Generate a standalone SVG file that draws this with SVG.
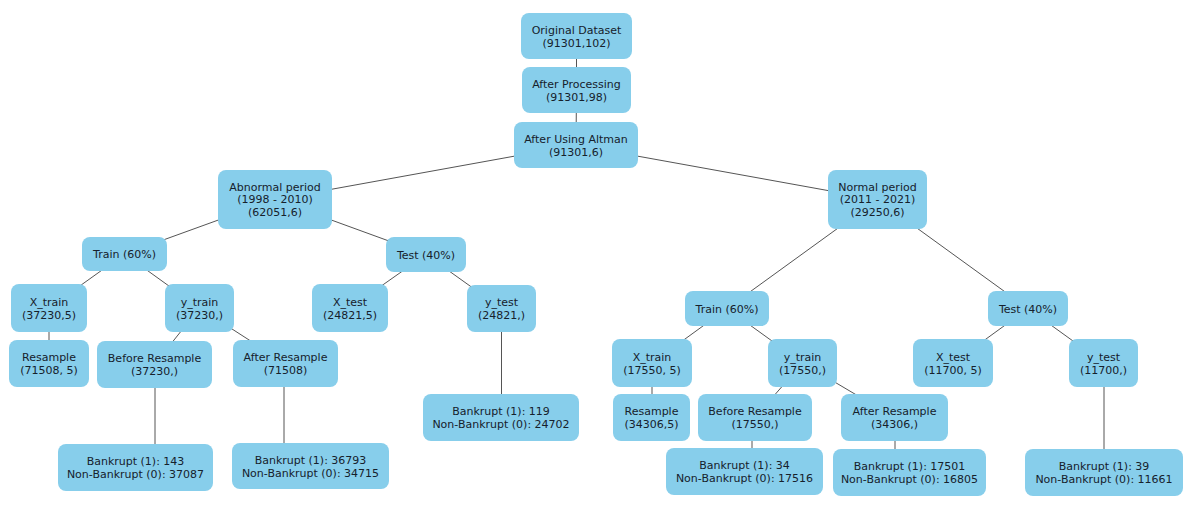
<svg xmlns="http://www.w3.org/2000/svg" width="1192" height="507" viewBox="0 0 1192 507">
<style>
.n rect{fill:#87CEEB}
.n text{font-family:"DejaVu Sans",sans-serif;font-size:11px;fill:#16212c;text-anchor:middle}
#edges line{stroke:#555;stroke-width:1}
</style>
<rect width="1192" height="507" fill="#fff"/>
<g id="edges">
<line x1="576.5" y1="36" x2="576.5" y2="90"/>
<line x1="576.5" y1="90" x2="576" y2="145"/>
<line x1="576" y1="145" x2="275" y2="199.5"/>
<line x1="576" y1="145" x2="877.5" y2="199.5"/>
<line x1="275" y1="199.5" x2="124.5" y2="254"/>
<line x1="275" y1="199.5" x2="426" y2="254.5"/>
<line x1="124.5" y1="254" x2="49" y2="308"/>
<line x1="124.5" y1="254" x2="199.5" y2="308"/>
<line x1="426" y1="254.5" x2="350" y2="308"/>
<line x1="426" y1="254.5" x2="501.5" y2="308.5"/>
<line x1="49" y1="308" x2="49" y2="363.5"/>
<line x1="199.5" y1="308" x2="154.5" y2="364.5"/>
<line x1="199.5" y1="308" x2="285.5" y2="363.5"/>
<line x1="155" y1="364.5" x2="155" y2="467"/>
<line x1="284" y1="363.5" x2="284" y2="466"/>
<line x1="501.5" y1="308.5" x2="501.5" y2="417.5"/>
<line x1="877.5" y1="199.5" x2="727" y2="308.5"/>
<line x1="877.5" y1="199.5" x2="1028" y2="308.5"/>
<line x1="727" y1="308.5" x2="652" y2="363"/>
<line x1="727" y1="308.5" x2="802.5" y2="363"/>
<line x1="1028" y1="308.5" x2="953" y2="363"/>
<line x1="1028" y1="308.5" x2="1103.5" y2="363"/>
<line x1="652" y1="363" x2="652" y2="417.5"/>
<line x1="802.5" y1="363" x2="755" y2="417.5"/>
<line x1="802.5" y1="363" x2="894.5" y2="417.5"/>
<line x1="752" y1="417.5" x2="752" y2="471.5"/>
<line x1="895" y1="417.5" x2="895" y2="472.5"/>
<line x1="1104" y1="363" x2="1104" y2="472.5"/>
</g>
<g id="orig" class="n"><rect x="521" y="13" width="111" height="46" rx="8"/><text x="576.5" y="33.5">Original Dataset</text><text x="576.5" y="46.5">(91301,102)</text></g>
<g id="proc" class="n"><rect x="522" y="67" width="109" height="46" rx="8"/><text x="576.5" y="87.5">After Processing</text><text x="576.5" y="100.5">(91301,98)</text></g>
<g id="altman" class="n"><rect x="514" y="122" width="124" height="46" rx="8"/><text x="576" y="142.5">After Using Altman</text><text x="576" y="155.5">(91301,6)</text></g>
<g id="abnormal" class="n"><rect x="218" y="170" width="114" height="59" rx="8"/><text x="275" y="190.5">Abnormal period</text><text x="275" y="203">(1998 - 2010)</text><text x="275" y="215.5">(62051,6)</text></g>
<g id="normal" class="n"><rect x="828" y="170" width="99" height="59" rx="8"/><text x="877.5" y="190.5">Normal period</text><text x="877.5" y="203">(2011 - 2021)</text><text x="877.5" y="215.5">(29250,6)</text></g>
<g id="trainL" class="n"><rect x="82" y="237" width="85" height="34" rx="8"/><text x="124.5" y="258">Train (60%)</text></g>
<g id="testL" class="n"><rect x="386" y="237" width="80" height="35" rx="8"/><text x="426" y="258.5">Test (40%)</text></g>
<g id="xtrainL" class="n"><rect x="11" y="284" width="76" height="48" rx="8"/><text x="49" y="305.5">X_train</text><text x="49" y="318.5">(37230,5)</text></g>
<g id="ytrainL" class="n"><rect x="165" y="284" width="69" height="48" rx="8"/><text x="199.5" y="305.5">y_train</text><text x="199.5" y="318.5">(37230,)</text></g>
<g id="xtestL" class="n"><rect x="312" y="284" width="76" height="48" rx="8"/><text x="350" y="305.5">X_test</text><text x="350" y="318.5">(24821,5)</text></g>
<g id="ytestL" class="n"><rect x="467" y="285" width="69" height="47" rx="8"/><text x="501.5" y="306">y_test</text><text x="501.5" y="319">(24821,)</text></g>
<g id="resL" class="n"><rect x="9" y="340" width="80" height="47" rx="8"/><text x="49" y="361">Resample</text><text x="49" y="374">(71508, 5)</text></g>
<g id="befL" class="n"><rect x="97" y="341" width="115" height="47" rx="8"/><text x="154.5" y="362">Before Resample</text><text x="154.5" y="375">(37230,)</text></g>
<g id="aftL" class="n"><rect x="233" y="340" width="105" height="47" rx="8"/><text x="285.5" y="361">After Resample</text><text x="285.5" y="374">(71508)</text></g>
<g id="b143" class="n"><rect x="58" y="444" width="155" height="47" rx="8"/><text x="135.5" y="465">Bankrupt (1): 143</text><text x="135.5" y="478">Non-Bankrupt (0): 37087</text></g>
<g id="b36793" class="n"><rect x="232" y="443" width="157" height="46" rx="8"/><text x="310.5" y="463.5">Bankrupt (1): 36793</text><text x="310.5" y="476.5">Non-Bankrupt (0): 34715</text></g>
<g id="b119" class="n"><rect x="423" y="394" width="156" height="47" rx="8"/><text x="501" y="415">Bankrupt (1): 119</text><text x="501" y="428">Non-Bankrupt (0): 24702</text></g>
<g id="trainR" class="n"><rect x="685" y="291" width="84" height="35" rx="8"/><text x="727" y="312.5">Train (60%)</text></g>
<g id="testR" class="n"><rect x="988" y="291" width="80" height="35" rx="8"/><text x="1028" y="312.5">Test (40%)</text></g>
<g id="xtrainR" class="n"><rect x="612" y="339" width="80" height="48" rx="8"/><text x="652" y="360.5">X_train</text><text x="652" y="373.5">(17550, 5)</text></g>
<g id="ytrainR" class="n"><rect x="768" y="339" width="69" height="48" rx="8"/><text x="802.5" y="360.5">y_train</text><text x="802.5" y="373.5">(17550,)</text></g>
<g id="xtestR" class="n"><rect x="913" y="339" width="80" height="48" rx="8"/><text x="953" y="360.5">X_test</text><text x="953" y="373.5">(11700, 5)</text></g>
<g id="ytestR" class="n"><rect x="1069" y="339" width="69" height="48" rx="8"/><text x="1103.5" y="360.5">y_test</text><text x="1103.5" y="373.5">(11700,)</text></g>
<g id="resR" class="n"><rect x="613" y="394" width="77" height="47" rx="8"/><text x="651.5" y="415">Resample</text><text x="651.5" y="428">(34306,5)</text></g>
<g id="befR" class="n"><rect x="698" y="394" width="114" height="47" rx="8"/><text x="755" y="415">Before Resample</text><text x="755" y="428">(17550,)</text></g>
<g id="aftR" class="n"><rect x="841" y="394" width="107" height="47" rx="8"/><text x="894.5" y="415">After Resample</text><text x="894.5" y="428">(34306,)</text></g>
<g id="b34" class="n"><rect x="666" y="448" width="157" height="47" rx="8"/><text x="744.5" y="469">Bankrupt (1): 34</text><text x="744.5" y="482">Non-Bankrupt (0): 17516</text></g>
<g id="b17501" class="n"><rect x="833" y="449" width="153" height="47" rx="8"/><text x="909.5" y="470">Bankrupt (1): 17501</text><text x="909.5" y="483">Non-Bankrupt (0): 16805</text></g>
<g id="b39" class="n"><rect x="1025" y="449" width="158" height="47" rx="8"/><text x="1104" y="470">Bankrupt (1): 39</text><text x="1104" y="483">Non-Bankrupt (0): 11661</text></g>
</svg>
